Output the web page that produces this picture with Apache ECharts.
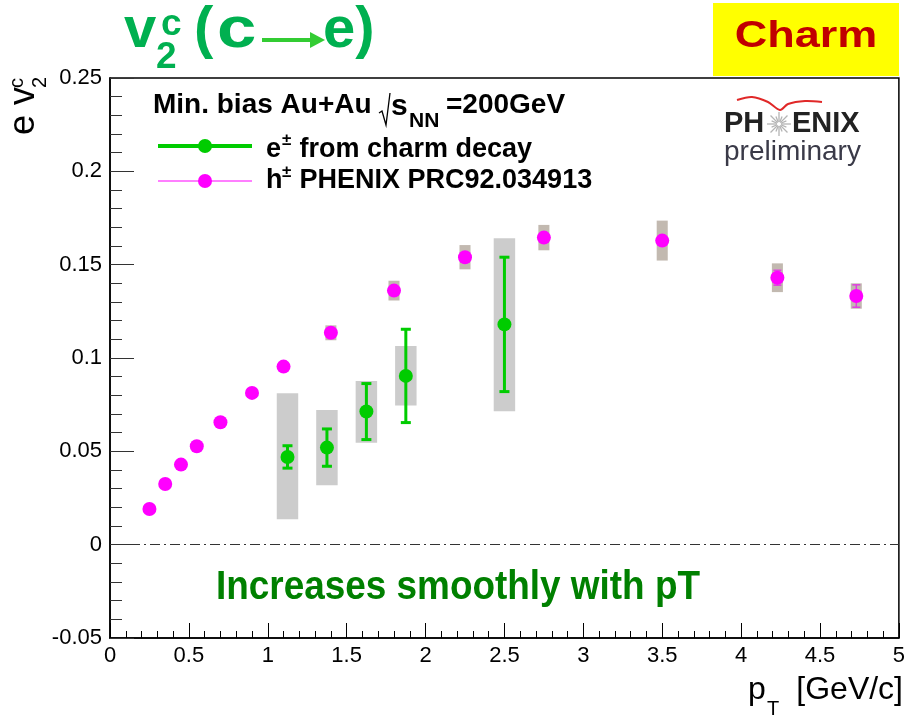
<!DOCTYPE html>
<html>
<head>
<meta charset="utf-8">
<script src="https://cdn.jsdelivr.net/npm/echarts@6/dist/echarts.min.js"></script>
<style>
  html, body { margin: 0; padding: 0; background: #fff; }
  #chart { width: 908px; height: 715px; }
</style>
</head>
<body>
<div id="chart"></div>
<script>
// e± from charm decay: v2 with statistical errors and asymmetric systematic band
const eX = [1.125, 1.375, 1.625, 1.875, 2.5];
const eV2 = [0.047, 0.052, 0.0713, 0.0904, 0.118];
const eStat = [0.006, 0.010, 0.015, 0.025, 0.036];
const eSysLow = [0.0136, 0.0318, 0.0546, 0.0745, 0.0715];
const eSysHigh = [0.0811, 0.0722, 0.0877, 0.1064, 0.1641];

// h± PHENIX PRC92.034913
const hX = [0.25, 0.35, 0.45, 0.55, 0.70, 0.90, 1.10, 1.40, 1.80, 2.25, 2.75, 3.50, 4.23, 4.73];
const hV2 = [0.0191, 0.0325, 0.0429, 0.0527, 0.0656, 0.0813, 0.0954, 0.1135, 0.1361, 0.1540, 0.1645, 0.1629, 0.1430, 0.1332];
const hStat = [0, 0, 0, 0, 0, 0, 0, 0, 0, 0, 0, 0, 0.004, 0.006];
const hSys = [0, 0, 0, 0, 0, 0, 0.002, 0.004, 0.0053, 0.0065, 0.0068, 0.0107, 0.0077, 0.0068];

// axis tick labels
const xTickLabels = ['0', '0.5', '1', '1.5', '2', '2.5', '3', '3.5', '4', '4.5', '5'];
const yTickLabels = ['-0.05', '0', '0.05', '0.1', '0.15', '0.2', '0.25'];

const FONT = '"Liberation Sans", Arial, Helvetica, sans-serif';
const GREEN = '#00cc00';
const MAGENTA = '#ff00ff';

function boxItem(halfW, color) {
  return function (params, api) {
    const x = api.value(0), lo = api.value(1), hi = api.value(2);
    const p1 = api.coord([x - halfW, hi]);
    const p2 = api.coord([x + halfW, lo]);
    return {
      type: 'rect',
      shape: { x: p1[0], y: p1[1], width: p2[0] - p1[0], height: p2[1] - p1[1] },
      style: { fill: color }
    };
  };
}

function errItem(capHalf, lw, color) {
  return function (params, api) {
    const x = api.value(0), lo = api.value(1), hi = api.value(2);
    const a = api.coord([x, hi]);
    const b = api.coord([x, lo]);
    const st = { stroke: color, lineWidth: lw };
    return {
      type: 'group',
      children: [
        { type: 'line', shape: { x1: a[0], y1: a[1], x2: b[0], y2: b[1] }, style: st },
        { type: 'line', shape: { x1: a[0] - capHalf, y1: a[1], x2: a[0] + capHalf, y2: a[1] }, style: st },
        { type: 'line', shape: { x1: b[0] - capHalf, y1: b[1], x2: b[0] + capHalf, y2: b[1] }, style: st }
      ]
    };
  };
}

const eSysData = eX.map((x, i) => [x, eSysLow[i], eSysHigh[i]]);
const eErrData = eX.map((x, i) => [x, eV2[i] - eStat[i], eV2[i] + eStat[i]]);
const hSysData = hX.map((x, i) => [x, hV2[i] - hSys[i], hV2[i] + hSys[i]]).filter((d, i) => hSys[i] > 0);
const hErrData = hX.map((x, i) => [x, hV2[i] - hStat[i], hV2[i] + hStat[i]]).filter((d, i) => hStat[i] > 0);

// small helper for free text pieces
function txt(text, x, y, size, opts) {
  opts = opts || {};
  return {
    type: 'text', x: x, y: y,
    scaleX: opts.scaleX || 1,
    z: 100,
    style: {
      text: text,
      font: (opts.weight || 'bold') + ' ' + size + 'px ' + FONT,
      fill: opts.color || '#000',
      textAlign: opts.align || 'left',
      textVerticalAlign: 'middle'
    }
  };
}

// PHENIX star burst
const star = [];
for (let k = 0; k < 16; k++) {
  const ang = k * Math.PI / 8;
  const r = (k % 2 === 0) ? 12 : 8;
  star.push({
    type: 'line', z: 100,
    shape: { x1: 779 + 2 * Math.cos(ang), y1: 124 + 2 * Math.sin(ang), x2: 779 + r * Math.cos(ang), y2: 124 + r * Math.sin(ang) },
    style: { stroke: '#b4b4b4', lineWidth: 1.3 }
  });
}

const TG = '#00b050';
const graphics = [
  // headline v2c(c->e)
  txt('v', 124, 31, 58, { color: TG }),
  txt('2', 156, 58, 37, { color: TG }),
  txt('c', 161, 25, 37, { color: TG }),
  txt('(', 194, 31, 58, { color: TG }),
  txt('c', 217, 31, 58, { color: TG, scaleX: 1.22 }),
  { type: 'line', z: 100, shape: { x1: 262, y1: 40, x2: 314, y2: 40 }, style: { stroke: '#33cc33', lineWidth: 4 } },
  { type: 'polygon', z: 100, shape: { points: [[310, 32], [325, 40], [310, 48]] }, style: { fill: '#33cc33' } },
  txt('e)', 323, 31, 58, { color: TG }),

  // Charm tag
  { type: 'rect', z: 90, shape: { x: 713, y: 3, width: 186, height: 73 }, style: { fill: '#ffff00' } },
  txt('Charm', 806, 37, 36, { color: '#c00000', align: 'center', scaleX: 1.25 }),

  // PHENIX preliminary
  { type: 'polyline', z: 100, shape: { points: [[737, 100], [752, 97], [768, 102], [780, 110], [788, 104], [805, 101], [822, 102]], smooth: 0.3 }, style: { stroke: '#e02828', lineWidth: 2, fill: null } },
  txt('PH', 724, 124, 29, { color: '#222' }),
  txt('ENIX', 792, 124, 29, { color: '#222' }),
  ...star,
  txt('preliminary', 724, 152, 28, { color: '#3a3a48', weight: 'normal' }),

  // legend header
  txt('Min. bias Au+Au', 153, 105, 28),
  { type: 'polyline', z: 100, shape: { points: [[379, 113], [382, 111], [386, 125], [390, 93]] }, style: { stroke: '#000', lineWidth: 1.3, fill: null } },
  txt('s', 391, 107, 30),
  txt('NN', 409, 121, 21),
  txt('=200GeV', 446, 105, 28),

  // legend entries
  { type: 'line', z: 100, shape: { x1: 158, y1: 146, x2: 252, y2: 146 }, style: { stroke: GREEN, lineWidth: 4 } },
  { type: 'circle', z: 100, shape: { cx: 205, cy: 146, r: 7 }, style: { fill: GREEN } },
  txt('e', 266, 150, 27),
  txt('\u00b1', 282, 140, 17),
  txt(' from charm decay', 292, 150, 27),
  { type: 'line', z: 100, shape: { x1: 158, y1: 181, x2: 252, y2: 181 }, style: { stroke: MAGENTA, lineWidth: 1.2 } },
  { type: 'circle', z: 100, shape: { cx: 205, cy: 181, r: 7 }, style: { fill: MAGENTA } },
  txt('h', 266, 181, 27),
  txt('\u00b1', 282, 172, 17),
  txt(' PHENIX PRC92.034913', 292, 181, 27),

  // annotation
  txt('Increases smoothly with pT', 458, 588, 41, { color: '#008000', align: 'center', scaleX: 0.9 }),

  // x axis title
  txt('p', 748, 690, 32, { weight: 'normal' }),
  txt('T', 767, 709, 20, { weight: 'normal' }),
  txt('[GeV/c]', 903, 690, 32, { weight: 'normal', align: 'right' }),

  // y axis title (rotated)
  {
    type: 'group', x: 37, y: 135, rotation: Math.PI / 2, z: 100,
    children: [
      txt('e v', 0, -12.6, 36, { weight: 'normal' }),
      txt('2', 47, 3, 20, { weight: 'normal' }),
      txt('c', 47, -20, 20, { weight: 'normal' })
    ]
  }
];

const chart = echarts.init(document.getElementById('chart'), null, { renderer: 'canvas' });
chart.setOption({
  animation: false,
  backgroundColor: '#fff',
  grid: { left: 110, right: 6, top: 78, bottom: 77, show: true, borderColor: '#000', borderWidth: 1.5, backgroundColor: 'transparent' },
  xAxis: {
    type: 'value', min: 0, max: 5, interval: 0.5,
    axisLine: { show: true, onZero: false, lineStyle: { color: '#000', width: 1.5 } },
    axisTick: { show: true, inside: true, length: 15, lineStyle: { color: '#000', width: 1 } },
    minorTick: { show: true, splitNumber: 5, length: 7, lineStyle: { color: '#000', width: 1 } },
    splitLine: { show: false },
    axisLabel: {
      fontSize: 22, color: '#000', fontFamily: FONT, margin: 7,
      formatter: v => xTickLabels[Math.round(v / 0.5)]
    }
  },
  yAxis: {
    type: 'value', min: -0.05, max: 0.25, interval: 0.05,
    axisLine: { show: true, onZero: false, lineStyle: { color: '#000', width: 1.5 } },
    axisTick: { show: true, inside: true, length: 24, lineStyle: { color: '#333', width: 1 } },
    minorTick: { show: true, splitNumber: 5, length: 12, lineStyle: { color: '#333', width: 1 } },
    splitLine: { show: false },
    axisLabel: {
      fontSize: 22, color: '#000', fontFamily: FONT, margin: 8,
      formatter: v => yTickLabels[Math.round((v + 0.05) / 0.05)]
    }
  },
  series: [
    {
      type: 'custom', name: 'e sys', renderItem: boxItem(0.068, '#cccccc'),
      data: eSysData, encode: { x: 0, y: [1, 2] }, z: 1, silent: true
    },
    {
      type: 'custom', name: 'h sys', renderItem: boxItem(0.035, '#c2b9b0'),
      data: hSysData, encode: { x: 0, y: [1, 2] }, z: 1, silent: true
    },
    {
      type: 'custom', name: 'e stat', renderItem: errItem(5, 3, GREEN),
      data: eErrData, encode: { x: 0, y: [1, 2] }, z: 3, silent: true
    },
    {
      type: 'custom', name: 'h stat', renderItem: errItem(4, 1.5, '#e040e0'),
      data: hErrData, encode: { x: 0, y: [1, 2] }, z: 3, silent: true
    },
    {
      type: 'scatter', name: 'e\u00b1 from charm decay', symbol: 'circle', symbolSize: 14,
      itemStyle: { color: GREEN, opacity: 1 },
      data: eX.map((x, i) => [x, eV2[i]]), z: 5
    },
    {
      type: 'scatter', name: 'h\u00b1 PHENIX PRC92.034913', symbol: 'circle', symbolSize: 14,
      itemStyle: { color: MAGENTA, opacity: 1 },
      data: hX.map((x, i) => [x, hV2[i]]), z: 5,
      markLine: {
        silent: true, symbol: 'none', label: { show: false },
        lineStyle: { color: '#333', width: 1, type: [10, 4, 2, 4] },
        data: [{ yAxis: 0 }]
      }
    }
  ],
  graphic: graphics
});
</script>
</body>
</html>
